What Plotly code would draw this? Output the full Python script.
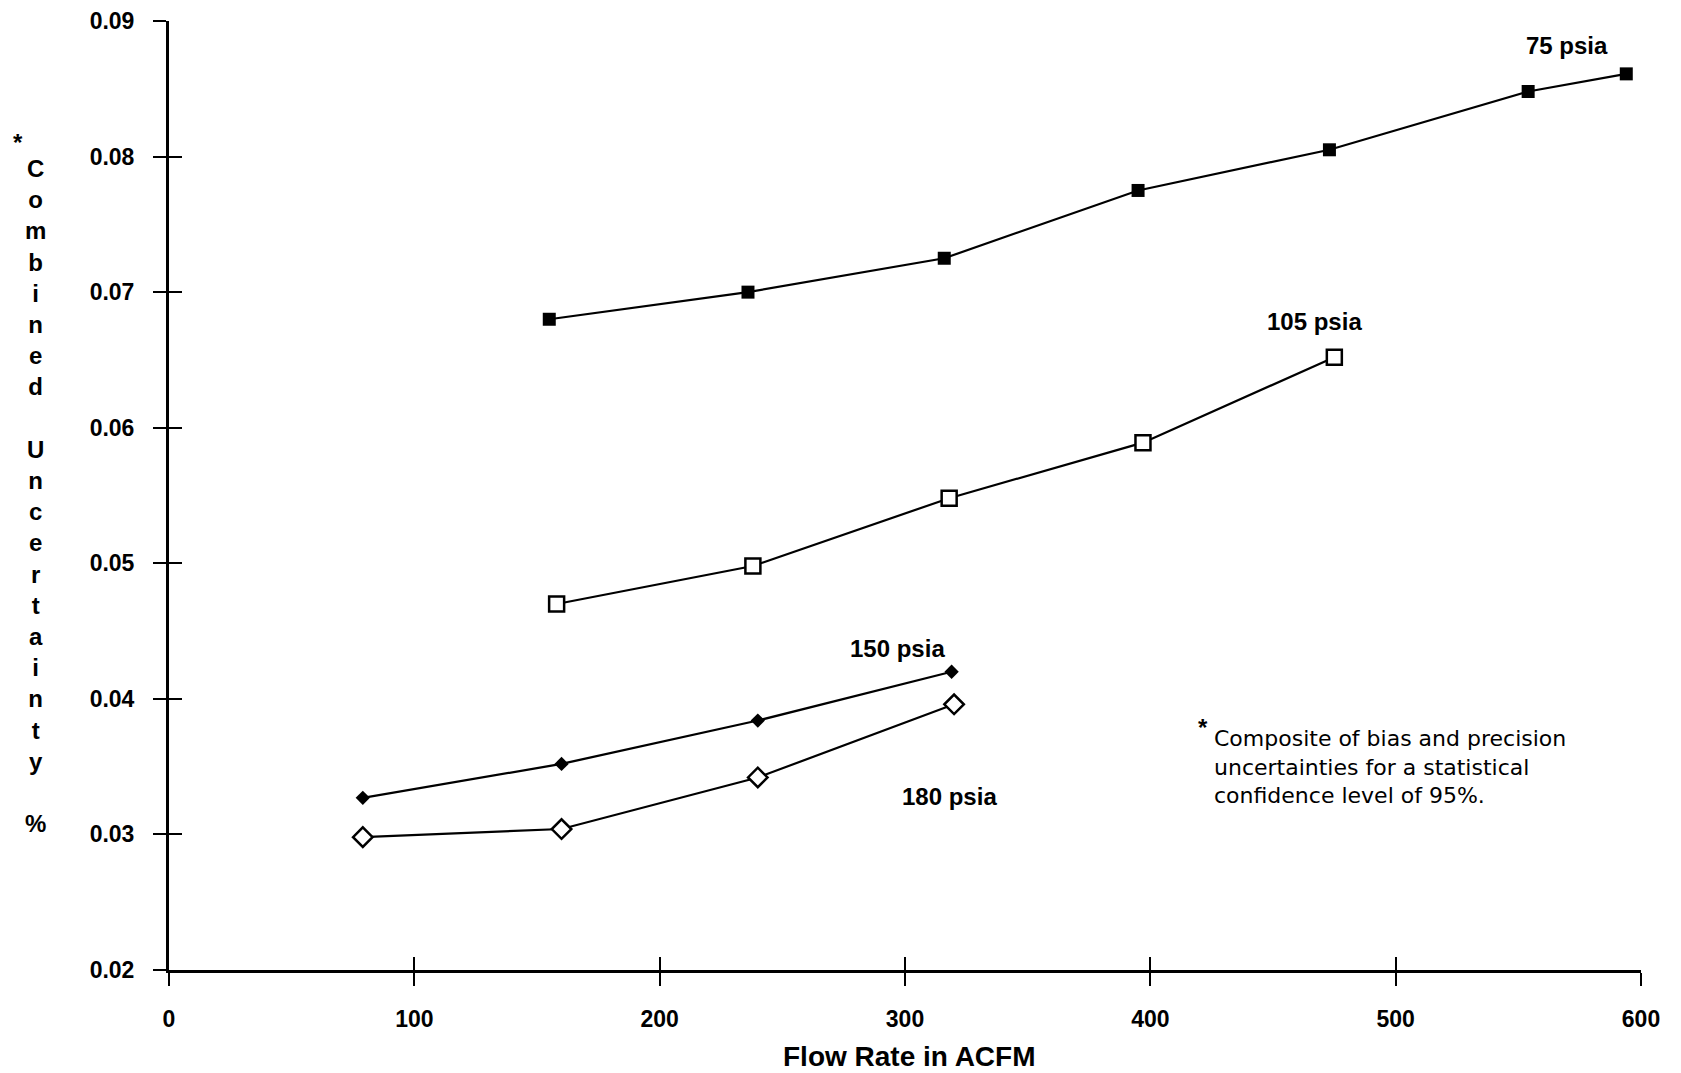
import plotly.graph_objects as go

# ---- data ----
x_75 = [155, 236, 316, 395, 473, 554, 594]
y_75 = [0.0680, 0.0700, 0.0725, 0.0775, 0.0805, 0.0848, 0.0861]

x_105 = [158, 238, 318, 397, 475]
y_105 = [0.0470, 0.0498, 0.0548, 0.0589, 0.0652]

x_150 = [79, 160, 240, 319]
y_150 = [0.0327, 0.0352, 0.0384, 0.0420]

x_180 = [79, 160, 240, 320]
y_180 = [0.0298, 0.0304, 0.0342, 0.0396]

series_labels = ["75 psia", "105 psia", "150 psia", "180 psia"]
label_x = [570, 467, 297, 318]
label_y = [0.0882, 0.0678, 0.0437, 0.0328]

x_ticks = [0, 100, 200, 300, 400, 500, 600]
y_ticks = [0.02, 0.03, 0.04, 0.05, 0.06, 0.07, 0.08, 0.09]

x_title = "Flow Rate in ACFM"
y_title = "Combined Uncertainty %"
footnote = ["Composite of bias and precision",
            "uncertainties for a statistical",
            "confidence level of 95%."]

BOLD = "Liberation Sans, Arial, Helvetica, sans-serif"
BLACK = "black"

fig = go.Figure()

line = dict(color=BLACK, width=2.2)
fig.add_trace(go.Scatter(x=x_75, y=y_75, mode="lines+markers", line=line,
                         marker=dict(symbol="square", size=13, color=BLACK),
                         name=series_labels[0], showlegend=False))
fig.add_trace(go.Scatter(x=x_105, y=y_105, mode="lines+markers", line=line,
                         marker=dict(symbol="square", size=15, color="white",
                                     line=dict(color=BLACK, width=2.5)),
                         name=series_labels[1], showlegend=False))
fig.add_trace(go.Scatter(x=x_150, y=y_150, mode="lines+markers", line=line,
                         marker=dict(symbol="diamond", size=11, color=BLACK),
                         name=series_labels[2], showlegend=False))
fig.add_trace(go.Scatter(x=x_180, y=y_180, mode="lines+markers", line=line,
                         marker=dict(symbol="diamond", size=15, color="white",
                                     line=dict(color=BLACK, width=2.5)),
                         name=series_labels[3], showlegend=False))
# empty trace to activate the overlay axes used for crossing ticks
fig.add_trace(go.Scatter(x=[], y=[], xaxis="x2", yaxis="y2", showlegend=False,
                         hoverinfo="skip"))

x_range = [x_ticks[0], x_ticks[-1]]
y_range = [y_ticks[0], y_ticks[-1]]

# the page body adds an 8px offset, so the figure is shifted by 8px
fig.update_layout(
    width=1665, height=1065,
    margin=dict(l=161, r=32, t=13, b=103, autoexpand=False),
    paper_bgcolor="white", plot_bgcolor="white",
    showlegend=False,
    xaxis=dict(range=x_range, tickvals=x_ticks, ticks="outside", ticklen=13,
               tickwidth=2, tickcolor=BLACK, showline=True, linewidth=3,
               linecolor=BLACK, showgrid=False, zeroline=False,
               automargin=False, ticklabeloverflow="allow",
               tickfont=dict(family=BOLD, size=23, color=BLACK, weight="bold"),
               ticklabelstandoff=13),
    yaxis=dict(range=y_range, tickvals=y_ticks, tickformat=".2f",
               ticks="outside", ticklen=13, tickwidth=2, tickcolor=BLACK,
               showline=True, linewidth=3, linecolor=BLACK, showgrid=False,
               zeroline=False, automargin=False, ticklabeloverflow="allow",
               tickfont=dict(family=BOLD, size=23, color=BLACK, weight="bold"),
               ticklabelstandoff=14),
    xaxis2=dict(range=x_range, tickvals=x_ticks, ticks="inside", ticklen=13,
                tickwidth=2, tickcolor=BLACK, showticklabels=False,
                showline=False, showgrid=False, zeroline=False,
                automargin=False,
                overlaying="x", anchor="y2", side="bottom"),
    yaxis2=dict(range=y_range, tickvals=y_ticks, ticks="inside", ticklen=13,
                tickwidth=2, tickcolor=BLACK, showticklabels=False,
                showline=False, showgrid=False, zeroline=False,
                automargin=False,
                overlaying="y", anchor="x2", side="left"),
)

annotations = []
for t, lx, ly in zip(series_labels, label_x, label_y):
    annotations.append(dict(x=lx, y=ly, xref="x", yref="y", text=t,
                            showarrow=False, xanchor="center", yanchor="middle",
                            font=dict(family=BOLD, size=24, color=BLACK,
                                      weight="bold")))

# x-axis title
annotations.append(dict(x=0.503, y=0, xref="paper", yref="paper", text=x_title,
                        showarrow=False, xanchor="center", yanchor="middle",
                        yshift=-86,
                        font=dict(family=BOLD, size=28, color=BLACK,
                                  weight="bold")))

# y-axis title: letters stacked vertically
words = y_title.split(" ")
stack = "<br><br>".join("<br>".join(list(w)) for w in words)
annotations.append(dict(x=0, y=0.5, xref="paper", yref="paper", text=stack,
                        showarrow=False, xanchor="center", yanchor="middle",
                        xshift=-134, align="center",
                        font=dict(family=BOLD, size=24, color=BLACK,
                                  weight="bold")))
annotations.append(dict(x=0, y=1, xref="paper", yref="paper", text="*",
                        showarrow=False, xanchor="center", yanchor="middle",
                        xshift=-151, yshift=-121,
                        font=dict(family=BOLD, size=24, color=BLACK,
                                  weight="bold")))

# footnote
annotations.append(dict(x=0.7086, y=0.2143, xref="paper", yref="paper",
                        text="<br>".join(footnote), showarrow=False,
                        xanchor="left", yanchor="middle", align="left",
                        font=dict(family="DejaVu Sans, sans-serif", size=22,
                                  color=BLACK)))
annotations.append(dict(x=0.7024, y=0.2143, xref="paper", yref="paper",
                        text="*", showarrow=False, xanchor="center",
                        yanchor="middle", yshift=39,
                        font=dict(family=BOLD, size=24, color=BLACK,
                                  weight="bold")))

fig.update_layout(annotations=annotations)

fig.write_html("out.html")
